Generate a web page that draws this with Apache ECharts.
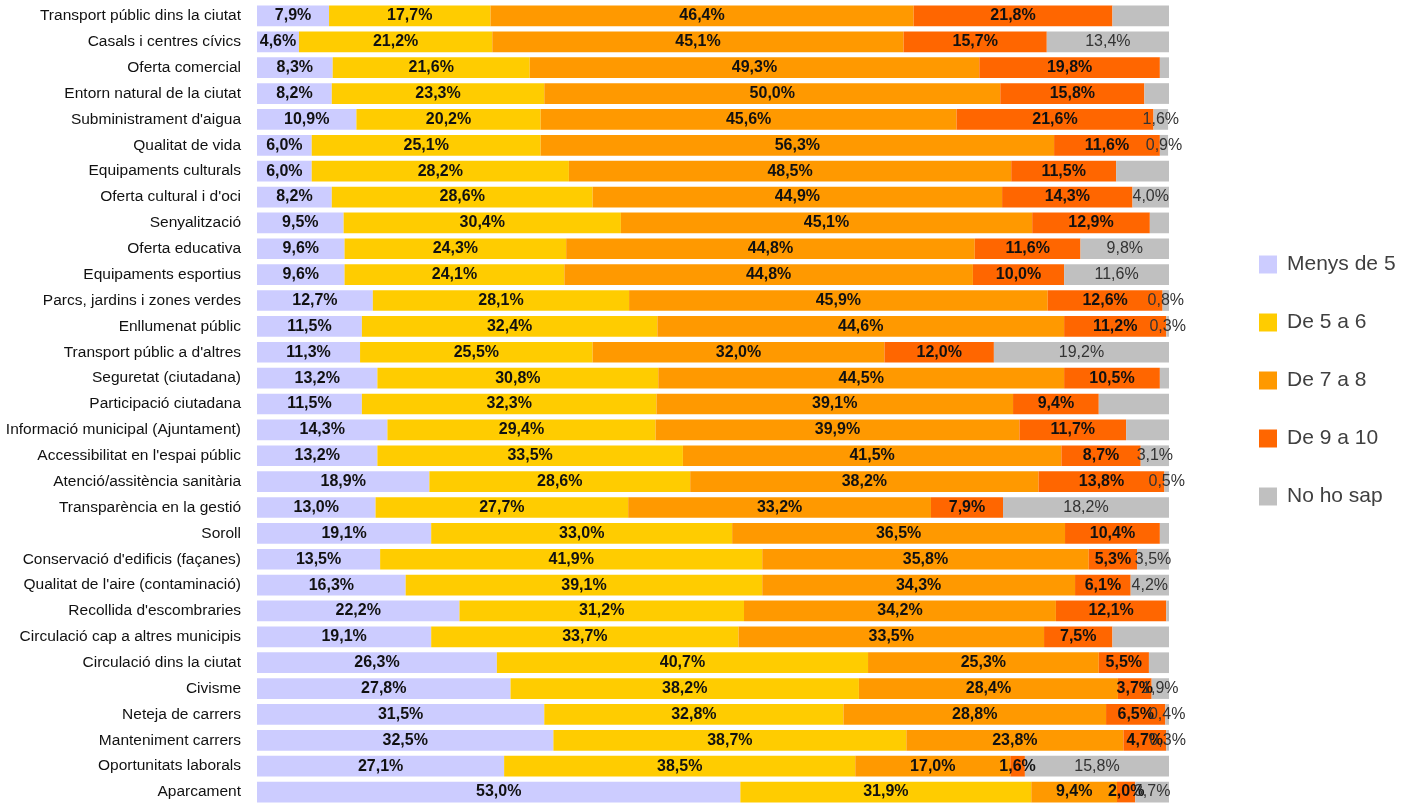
<!DOCTYPE html>
<html>
<head>
<meta charset="utf-8">
<script src="https://cdn.jsdelivr.net/npm/echarts@6/dist/echarts.min.js"></script>
<style>
  html, body { margin: 0; padding: 0; background: #fff; }
  #chart { width: 1414px; height: 805px; }
</style>
</head>
<body>
<div id="chart"></div>
<script>
var categories = [
  "Transport públic dins la ciutat", "Casals i centres cívics", "Oferta comercial",
  "Entorn natural de la ciutat", "Subministrament d'aigua", "Qualitat de vida",
  "Equipaments culturals", "Oferta cultural i d'oci", "Senyalització",
  "Oferta educativa", "Equipaments esportius", "Parcs, jardins i zones verdes",
  "Enllumenat públic", "Transport públic a d'altres", "Seguretat (ciutadana)",
  "Participació ciutadana", "Informació municipal (Ajuntament)", "Accessibilitat en l'espai públic",
  "Atenció/assitència sanitària", "Transparència en la gestió", "Soroll",
  "Conservació d'edificis (façanes)", "Qualitat de l'aire (contaminació)", "Recollida d'escombraries",
  "Circulació cap a altres municipis", "Circulació dins la ciutat", "Civisme",
  "Neteja de carrers", "Manteniment carrers", "Oportunitats laborals", "Aparcament"
];
var seriesNames = ["Menys de 5", "De 5 a 6", "De 7 a 8", "De 9 a 10", "No ho sap"];
var menys5 = [7.9, 4.6, 8.3, 8.2, 10.9, 6.0, 6.0, 8.2, 9.5, 9.6, 9.6, 12.7, 11.5, 11.3, 13.2, 11.5, 14.3, 13.2, 18.9, 13.0, 19.1, 13.5, 16.3, 22.2, 19.1, 26.3, 27.8, 31.5, 32.5, 27.1, 53.0];
var de5a6 = [17.7, 21.2, 21.6, 23.3, 20.2, 25.1, 28.2, 28.6, 30.4, 24.3, 24.1, 28.1, 32.4, 25.5, 30.8, 32.3, 29.4, 33.5, 28.6, 27.7, 33.0, 41.9, 39.1, 31.2, 33.7, 40.7, 38.2, 32.8, 38.7, 38.5, 31.9];
var de7a8 = [46.4, 45.1, 49.3, 50.0, 45.6, 56.3, 48.5, 44.9, 45.1, 44.8, 44.8, 45.9, 44.6, 32.0, 44.5, 39.1, 39.9, 41.5, 38.2, 33.2, 36.5, 35.8, 34.3, 34.2, 33.5, 25.3, 28.4, 28.8, 23.8, 17.0, 9.4];
var de9a10 = [21.8, 15.7, 19.8, 15.8, 21.6, 11.6, 11.5, 14.3, 12.9, 11.6, 10.0, 12.6, 11.2, 12.0, 10.5, 9.4, 11.7, 8.7, 13.8, 7.9, 10.4, 5.3, 6.1, 12.1, 7.5, 5.5, 3.7, 6.5, 4.7, 1.6, 2.0];
var noSap = [6.2, 13.4, 1.0, 2.7, 1.6, 0.9, 5.8, 4.0, 2.1, 9.8, 11.6, 0.8, 0.3, 19.2, 1.0, 7.7, 4.7, 3.1, 0.5, 18.2, 1.0, 3.5, 4.2, 0.3, 6.2, 2.2, 1.9, 0.4, 0.3, 15.8, 3.7];
// which "No ho sap" values carry a label in the original
var noSapShown = [false, true, false, false, true, true, false, true, false, true, true, true, true, true, false, false, false, true, true, true, false, true, true, false, false, false, true, true, true, true, true];

var colors = ["#CCCCFF", "#FFCC00", "#FF9900", "#FF6600", "#C0C0C0"];
var narrow = "'Liberation Sans Narrow', 'Arial Narrow', 'Liberation Sans', Arial, sans-serif";
var sans = "'Liberation Sans', Arial, sans-serif";

function fmt(v) {
  return v.toFixed(1).replace(".", ",") + "%";
}

var chart = echarts.init(document.getElementById("chart"));

function makeSeries(idx, values) {
  var isGray = idx === 4;
  return {
    name: seriesNames[idx],
    type: "bar",
    stack: "total",
    barWidth: "80%",
    itemStyle: { color: colors[idx] },
    label: {
      show: true,
      position: "inside",
      fontFamily: narrow,
      fontSize: 16,
      fontWeight: isGray ? "normal" : "bold",
      color: isGray ? "#333" : "#111",
      formatter: function (p) { return fmt(p.value); }
    },
    data: values.map(function (v, i) {
      if (isGray && !noSapShown[i]) {
        return { value: v, label: { show: false } };
      }
      return v;
    })
  };
}

chart.setOption({
  animation: false,
  color: colors,
  grid: { left: 257, right: 245, top: 3, height: 803 },
  legend: {
    orient: "vertical",
    left: 1254,
    top: 249,
    itemGap: 37,
    itemWidth: 18,
    itemHeight: 18,
    icon: "rect",
    textStyle: { fontFamily: sans, fontSize: 21, color: "#404040", padding: [0, 0, 0, 5] },
    data: seriesNames
  },
  xAxis: {
    type: "value",
    min: 0,
    max: 100,
    show: false
  },
  yAxis: {
    type: "category",
    inverse: true,
    data: categories,
    axisLine: { show: false },
    axisTick: { show: false },
    splitLine: { show: false },
    axisLabel: {
      margin: 16,
      fontFamily: sans,
      fontSize: 15.5,
      color: "#111"
    }
  },
  series: [
    makeSeries(0, menys5),
    makeSeries(1, de5a6),
    makeSeries(2, de7a8),
    makeSeries(3, de9a10),
    makeSeries(4, noSap)
  ]
});

window.addEventListener("resize", function () { chart.resize(); });
</script>
</body>
</html>
